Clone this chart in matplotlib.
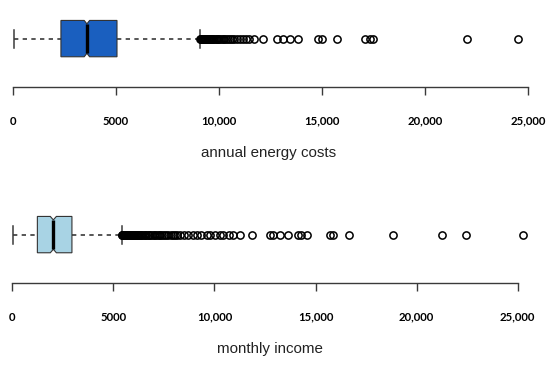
import numpy as np
import matplotlib.pyplot as plt

# estadisticos (valores en la escala del eje)
costos_stats = dict(whislo=80, q1=2340, med=3600, q3=5060, whishi=9090,
                    cilo=3470, cihi=3730)
costos_outliers = [9100, 9120, 9140, 9160, 9180, 9200, 9230, 9260, 9290, 9320,
                   9350, 9380, 9420, 9460, 9500, 9540, 9580, 9630, 9680, 9730,
                   9780, 9840, 9900, 9960, 10030, 10100, 10180, 10260, 10350,
                   10440, 10540, 10650, 10760, 10880, 11010, 11150, 11300,
                   11450, 11710, 12150, 12820, 13120, 13460, 13840, 14810,
                   15010, 15740, 17090, 17330, 17480, 22040, 24520]

ingreso_stats = dict(whislo=20, q1=1240, med=2030, q3=2950, whishi=5410,
                     cilo=1880, cihi=2180)
ingreso_outliers = [5420, 5440, 5460, 5480, 5500, 5520, 5545, 5570, 5595, 5620,
                    5650, 5680, 5710, 5740, 5770, 5800, 5840, 5880, 5920, 5960,
                    6000, 6050, 6100, 6150, 6200, 6250, 6310, 6370, 6430, 6490,
                    6550, 6620, 6690, 6760, 6830, 6910, 6990, 7070, 7150, 7240,
                    7330, 7420, 7520, 7620, 7720, 7830, 7940, 8050, 8170, 8290,
                    8500, 8700, 8950, 9120, 9350, 9610, 9800, 10020, 10250,
                    10440, 10700, 10930, 11260, 11840, 12740, 12900, 13240,
                    13650, 14140, 14300, 14560, 15710, 15880, 16670, 18810,
                    21240, 22420, 25240]

ticks = [0, 5000, 10000, 15000, 20000, 25000]
tick_labels = ["0", "5000", "10,000", "15,000", "20,000", "25,000"]

color_oscuro = "#1a5fbf"
color_claro = "#a8d3e4"
gris = "#3a3a3a"

W, H = 550, 371
fig = plt.figure(figsize=(W / 100, H / 100), dpi=100)


def caja(ax, st, fliers, color):
    yc, h, d = 0.63, 0.235, 0.045
    # caja con muesca
    xs = [st["q1"], st["cilo"], st["med"], st["cihi"], st["q3"],
          st["q3"], st["cihi"], st["med"], st["cilo"], st["q1"]]
    ys = [yc - h, yc - h, yc - h + d, yc - h, yc - h,
          yc + h, yc + h, yc + h - d, yc + h, yc + h]
    ax.fill(xs, ys, facecolor=color, edgecolor="#333333", lw=0.8, zorder=3)
    ax.plot([st["med"], st["med"]], [yc - h + d, yc + h - d], color="black",
            lw=2.4, solid_capstyle="butt", zorder=4)
    # bigotes
    ax.plot([st["whislo"], st["q1"]], [yc, yc], color=gris, lw=1.2,
            ls=(0, (2.6, 2.6)), zorder=2)
    ax.plot([st["q3"], st["whishi"]], [yc, yc], color=gris, lw=1.2,
            ls=(0, (2.6, 2.6)), zorder=2)
    for w in (st["whislo"], st["whishi"]):
        ax.plot([w, w], [yc - h / 2, yc + h / 2], color=gris, lw=1.1, zorder=2)
    ax.plot(fliers, [yc] * len(fliers), "o", ms=5.2, mfc="none", mec="black",
            mew=1.1, clip_on=False, zorder=5)


def eje(ax):
    ax.set_xlim(0, 25000)
    ax.set_ylim(0, 1)
    for s in ("top", "left", "right"):
        ax.spines[s].set_visible(False)
    ax.spines["bottom"].set_color(gris)
    ax.spines["bottom"].set_linewidth(1.0)
    ax.set_yticks([])
    ax.set_xticks(ticks)
    ax.set_xticklabels(tick_labels, fontfamily="Lato", fontweight="bold",
                       fontsize=8.2)
    ax.tick_params(axis="x", direction="out", length=6, width=1.0,
                   color=gris, pad=14.5, labelcolor="black")


# panel superior
ax1 = fig.add_axes([12.7 / W, (H - 87.3) / H, (528 - 12.7) / W, 77.3 / H])
caja(ax1, costos_stats, costos_outliers, color_oscuro)
eje(ax1)
fig.text(269 / W, 1 - 152.7 / H, "annual energy costs", ha="center",
         va="center", fontsize=10.9, family="Liberation Sans", color="#222222")

# panel inferior
ax2 = fig.add_axes([12.3 / W, (H - 283.3) / H, (517.7 - 12.3) / W, 77.3 / H])
caja(ax2, ingreso_stats, ingreso_outliers, color_claro)
eje(ax2)
fig.text(270 / W, 1 - 349 / H, "monthly income", ha="center", va="center",
         fontsize=10.9, family="Liberation Sans", color="#222222")

fig.savefig("out.png", dpi=100)
